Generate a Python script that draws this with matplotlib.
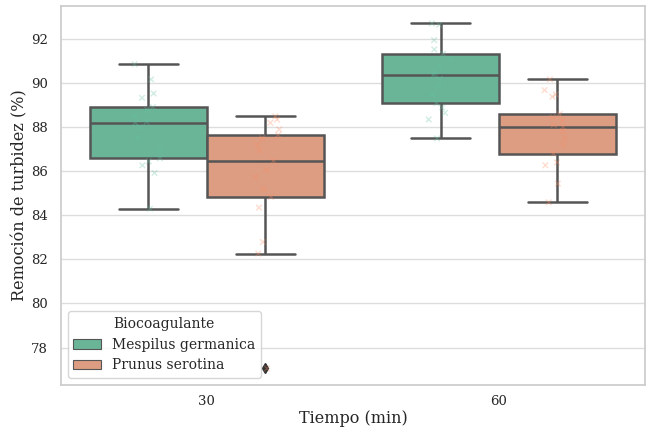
import numpy as np
import pandas as pd
import matplotlib
matplotlib.use("Agg")
import matplotlib.pyplot as plt
import seaborn as sns

# valores (% remocion de turbidez)
m30 = [84.30, 85.92, 86.27, 86.45, 86.59, 87.0, 87.5, 88.0, 88.21,
       88.24, 88.5, 88.8, 88.91, 89.33, 89.53, 90.17, 90.86]
p30 = [77.05, 82.26, 82.79, 84.35, 84.83, 85.2, 85.74, 86.05, 86.47,
       86.95, 87.2, 87.5, 87.65, 87.9, 88.2, 88.35, 88.49]
m60 = [87.49, 88.35, 88.65, 88.9, 89.09, 89.5, 89.9, 90.2, 90.38,
       90.5, 90.8, 91.1, 91.33, 91.53, 91.95, 92.65, 92.71]
p60 = [84.59, 85.44, 86.27, 86.40, 86.80, 87.2, 87.5, 87.8, 88.01,
       88.1, 88.3, 88.45, 88.59, 89.38, 89.49, 89.68, 90.17]

tiempos = ["30", "60"]
especies = ["Mespilus germanica", "Prunus serotina"]
grupos = {("30", especies[0]): m30, ("30", especies[1]): p30,
          ("60", especies[0]): m60, ("60", especies[1]): p60}

filas = []
for (t, e), vals in grupos.items():
    for v in vals:
        filas.append({"Tiempo (min)": t, "Biocoagulante": e, "Remoción": v})
df = pd.DataFrame(filas)

colores = ["#6ab597", "#dd9d82"]

sns.set_theme(style="whitegrid")
plt.rcParams["font.family"] = ["DejaVu Serif"]
plt.rcParams["axes.edgecolor"] = "#cccccc"
plt.rcParams["grid.color"] = "#dddddd"

fig = plt.figure(figsize=(6.47, 4.29), dpi=100)
ax = fig.add_axes([0.094, 0.1026, 0.903, 0.8834])

np.random.seed(3)
sns.boxplot(data=df, x="Tiempo (min)", y="Remoción", hue="Biocoagulante",
            order=tiempos, hue_order=especies, palette=colores, saturation=1,
            linewidth=1.8, linecolor="#555555",
            flierprops={"marker": "d", "markerfacecolor": "#333333",
                        "markeredgecolor": "#333333", "markersize": 5},
            ax=ax)
sns.stripplot(data=df, x="Tiempo (min)", y="Remoción", hue="Biocoagulante",
              order=tiempos, hue_order=especies, palette="Set2", dodge=True,
              marker="x", size=4, linewidth=1, alpha=0.3, jitter=True,
              legend=False, ax=ax)

ax.set_ylim(76.3, 93.5)
ax.set_yticks(range(78, 93, 2))
ax.set_xlim(-0.5, 1.5)
ax.tick_params(labelsize=9.5)
ax.tick_params(axis="x", pad=1.5)
ax.set_xlabel("Tiempo (min)", fontsize=11.5, labelpad=1)
ax.set_ylabel("Remoción de turbidez (%)", fontsize=11.5, labelpad=2)
ax.grid(axis="x", visible=False)

leg = ax.legend(title="Biocoagulante", loc="lower left", fontsize=10,
                title_fontsize=10, frameon=True)
leg.get_frame().set_edgecolor("#cccccc")
for h in leg.legend_handles:
    h.set_linewidth(0.8)

fig.savefig("out.png", dpi=100)
